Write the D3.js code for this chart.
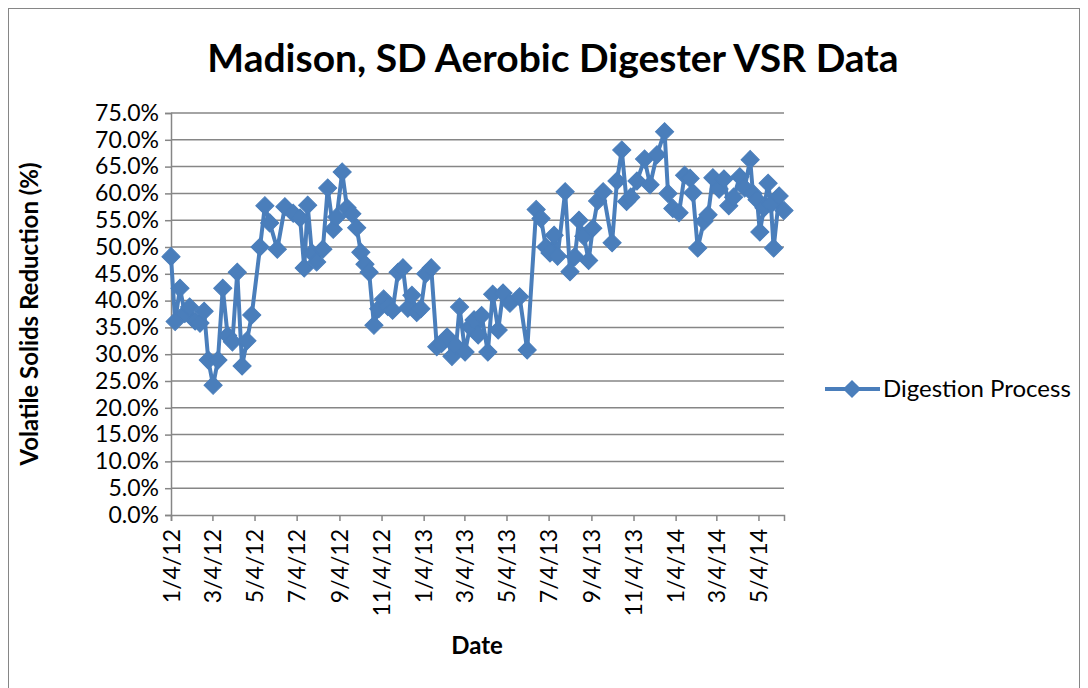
<!DOCTYPE html>
<html lang="en">
<head>
<meta charset="UTF-8">
<script src="https://cdn.jsdelivr.net/npm/d3@7"></script>
<style>
  body { margin: 0; background: #fff; }
  text { font-family: Lato, "Open Sans", sans-serif; fill: #000; }
</style>
<title>Madison, SD Aerobic Digester VSR Data</title>
</head>
<body>
<svg width="1088" height="688"></svg>
<script>
// sample dates and volatile solids reduction (%)
var dates = [
  "2012-01-04","2012-01-10","2012-01-17","2012-01-24","2012-01-31","2012-02-08","2012-02-15","2012-02-21",
  "2012-02-27","2012-03-05","2012-03-12","2012-03-19","2012-03-26","2012-04-02","2012-04-09","2012-04-16",
  "2012-04-23","2012-04-30","2012-05-12","2012-05-19","2012-05-26","2012-06-06","2012-06-17","2012-06-29",
  "2012-07-09","2012-07-15","2012-07-20","2012-07-26","2012-08-02","2012-08-11","2012-08-18","2012-08-26",
  "2012-08-31","2012-09-08","2012-09-15","2012-09-22","2012-09-29","2012-10-05","2012-10-11","2012-10-17",
  "2012-10-24","2012-10-31","2012-11-07","2012-11-13","2012-11-20","2012-11-28","2012-12-05","2012-12-12",
  "2012-12-18","2012-12-25","2012-12-31","2013-01-07","2013-01-15","2013-01-23","2013-01-30","2013-02-07",
  "2013-02-14","2013-02-20","2013-02-25","2013-03-05","2013-03-12","2013-03-18","2013-03-24","2013-03-29",
  "2013-04-07","2013-04-14","2013-04-22","2013-04-29","2013-05-09","2013-05-23","2013-06-03","2013-06-16",
  "2013-06-23","2013-06-30","2013-07-06","2013-07-12","2013-07-17","2013-07-28","2013-08-04","2013-08-11",
  "2013-08-17","2013-08-24","2013-08-31","2013-09-06","2013-09-13","2013-09-21","2013-10-04","2013-10-11",
  "2013-10-18","2013-10-25","2013-10-31","2013-11-09","2013-11-20","2013-11-28","2013-12-08","2013-12-19",
  "2013-12-24","2013-12-31","2014-01-09","2014-01-17","2014-01-25","2014-01-29","2014-02-05","2014-02-14",
  "2014-02-20","2014-02-27","2014-03-08","2014-03-15","2014-03-22","2014-03-29","2014-04-07","2014-04-14",
  "2014-04-22","2014-04-26","2014-05-02","2014-05-06","2014-05-12","2014-05-18","2014-05-22","2014-05-26",
  "2014-06-03","2014-06-10"
];
var vsr = [
  48.2, 36.1, 42.3, 37.6, 38.8, 36.2, 35.8, 38.0,
  28.9, 24.2, 28.9, 42.3, 33.5, 32.3, 45.3, 27.8,
  32.5, 37.3, 50.0, 57.7, 54.5, 49.6, 57.5, 56.3,
  55.4, 46.1, 57.8, 48.9, 47.2, 49.6, 61.0, 53.3,
  55.6, 64.0, 57.3, 56.2, 53.6, 49.0, 46.8, 45.3,
  35.4, 38.5, 40.3, 38.9, 38.2, 45.3, 46.1, 38.6,
  41.0, 37.8, 38.5, 45.0, 46.1, 31.4, 32.0, 33.2,
  29.6, 31.5, 38.8, 30.4, 35.1, 36.4, 33.6, 37.2,
  30.4, 41.2, 34.5, 41.4, 39.5, 40.7, 30.8, 57.0,
  55.3, 50.0, 48.9, 52.2, 48.3, 60.3, 45.4, 48.2,
  55.0, 52.0, 47.5, 53.5, 58.6, 60.3, 50.8, 62.3,
  68.1, 58.5, 59.3, 62.3, 66.4, 61.6, 67.2, 71.5,
  60.0, 57.2, 56.4, 63.4, 62.8, 60.1, 49.8, 54.8,
  56.0, 62.9, 60.8, 62.7, 57.7, 59.3, 63.1, 61.0,
  66.3, 60.0, 58.8, 52.8, 57.3, 61.9, 58.0, 49.8,
  59.5, 56.8
];
var xTickDates = [
  "2012-01-04","2012-03-04","2012-05-04","2012-07-04","2012-09-04","2012-11-04",
  "2013-01-04","2013-03-04","2013-05-04","2013-07-04","2013-09-04","2013-11-04",
  "2014-01-04","2014-03-04","2014-05-04"
];
var yTicks = [0, 5, 10, 15, 20, 25, 30, 35, 40, 45, 50, 55, 60, 65, 70, 75];
var seriesName = "Digestion Process";

function main() {
  var parse = d3.utcParse("%Y-%m-%d");
  var points = dates.map(function(d, i) { return { date: parse(d), value: vsr[i] }; });

  var svg = d3.select("svg");
  var plotLeft = 171, plotRight = 784, plotTop = 113, plotBottom = 515;
  var blue = "#4a7ebb", grid = "#868686";

  // outer chart border
  svg.append("rect").attr("x", 8.5).attr("y", 8.5).attr("width", 1071).attr("height", 700)
    .attr("fill", "#fff").attr("stroke", "#868686").attr("stroke-width", 1);

  var x = d3.scaleUtc()
    .domain([points[0].date, points[points.length - 1].date])
    .range([plotLeft, plotRight]);
  var y = d3.scaleLinear().domain([0, 75]).range([plotBottom, plotTop]);

  // gridlines
  svg.append("g").selectAll("line").data(yTicks.slice(1)).enter().append("line")
    .attr("x1", plotLeft).attr("x2", plotRight)
    .attr("y1", function(d) { return y(d); }).attr("y2", function(d) { return y(d); })
    .attr("stroke", grid).attr("stroke-width", 1.5);

  // y axis
  var yAxis = svg.append("g").attr("transform", "translate(" + plotLeft + ",0)")
    .call(d3.axisLeft(y).tickValues(yTicks).tickSize(6).tickPadding(6)
      .tickFormat(function(d) { return d.toFixed(1) + "%"; }));
  yAxis.selectAll("line, path").attr("stroke", grid).attr("stroke-width", 1.5);
  yAxis.selectAll("text").style("font-size", "23px").attr("fill", "#000");

  // x axis
  var xAxis = svg.append("g").attr("transform", "translate(0," + plotBottom + ")")
    .call(d3.axisBottom(x).tickValues(xTickDates.map(parse)).tickSize(6)
      .tickFormat(d3.utcFormat("%-m/%-d/%y")));
  xAxis.selectAll("line, path").attr("stroke", grid).attr("stroke-width", 1.5);
  xAxis.selectAll("text")
    .style("font-size", "23px").attr("fill", "#000")
    .attr("text-anchor", "end")
    .attr("transform", "rotate(-90)")
    .attr("x", -14).attr("y", 0).attr("dy", "0.35em");

  // series line and markers
  var line = d3.line().x(function(d) { return x(d.date); }).y(function(d) { return y(d.value); });
  svg.append("path").datum(points).attr("d", line)
    .attr("fill", "none").attr("stroke", blue).attr("stroke-width", 4).attr("stroke-linejoin", "round");

  var diamond = d3.symbol().type(d3.symbolSquare).size(165);
  svg.append("g").selectAll("path").data(points).enter().append("path")
    .attr("d", diamond)
    .attr("transform", function(d) { return "translate(" + x(d.date) + "," + y(d.value) + ") rotate(45)"; })
    .attr("fill", blue).attr("stroke", blue).attr("stroke-width", 1);

  // titles
  svg.append("text").attr("x", 553).attr("y", 72).attr("text-anchor", "middle")
    .style("font-size", "39px").style("font-weight", "bold").text("Madison, SD Aerobic Digester VSR Data");
  svg.append("text").attr("transform", "translate(38," + (plotTop + plotBottom) / 2 + ") rotate(-90)")
    .attr("text-anchor", "middle").style("font-size", "24px").style("font-weight", "bold")
    .text("Volatile Solids Reduction (%)");
  svg.append("text").attr("x", 477).attr("y", 654).attr("text-anchor", "middle")
    .style("font-size", "24px").style("font-weight", "bold").text("Date");

  // legend
  var lg = svg.append("g").attr("transform", "translate(825,389)");
  lg.append("line").attr("x1", 0).attr("x2", 55).attr("stroke", blue).attr("stroke-width", 4);
  lg.append("path").attr("d", diamond).attr("transform", "translate(27,0) rotate(45)").attr("fill", blue);
  lg.append("text").attr("x", 58).attr("dy", "0.35em").style("font-size", "24px").text(seriesName);
}
main();
</script>
</body>
</html>
